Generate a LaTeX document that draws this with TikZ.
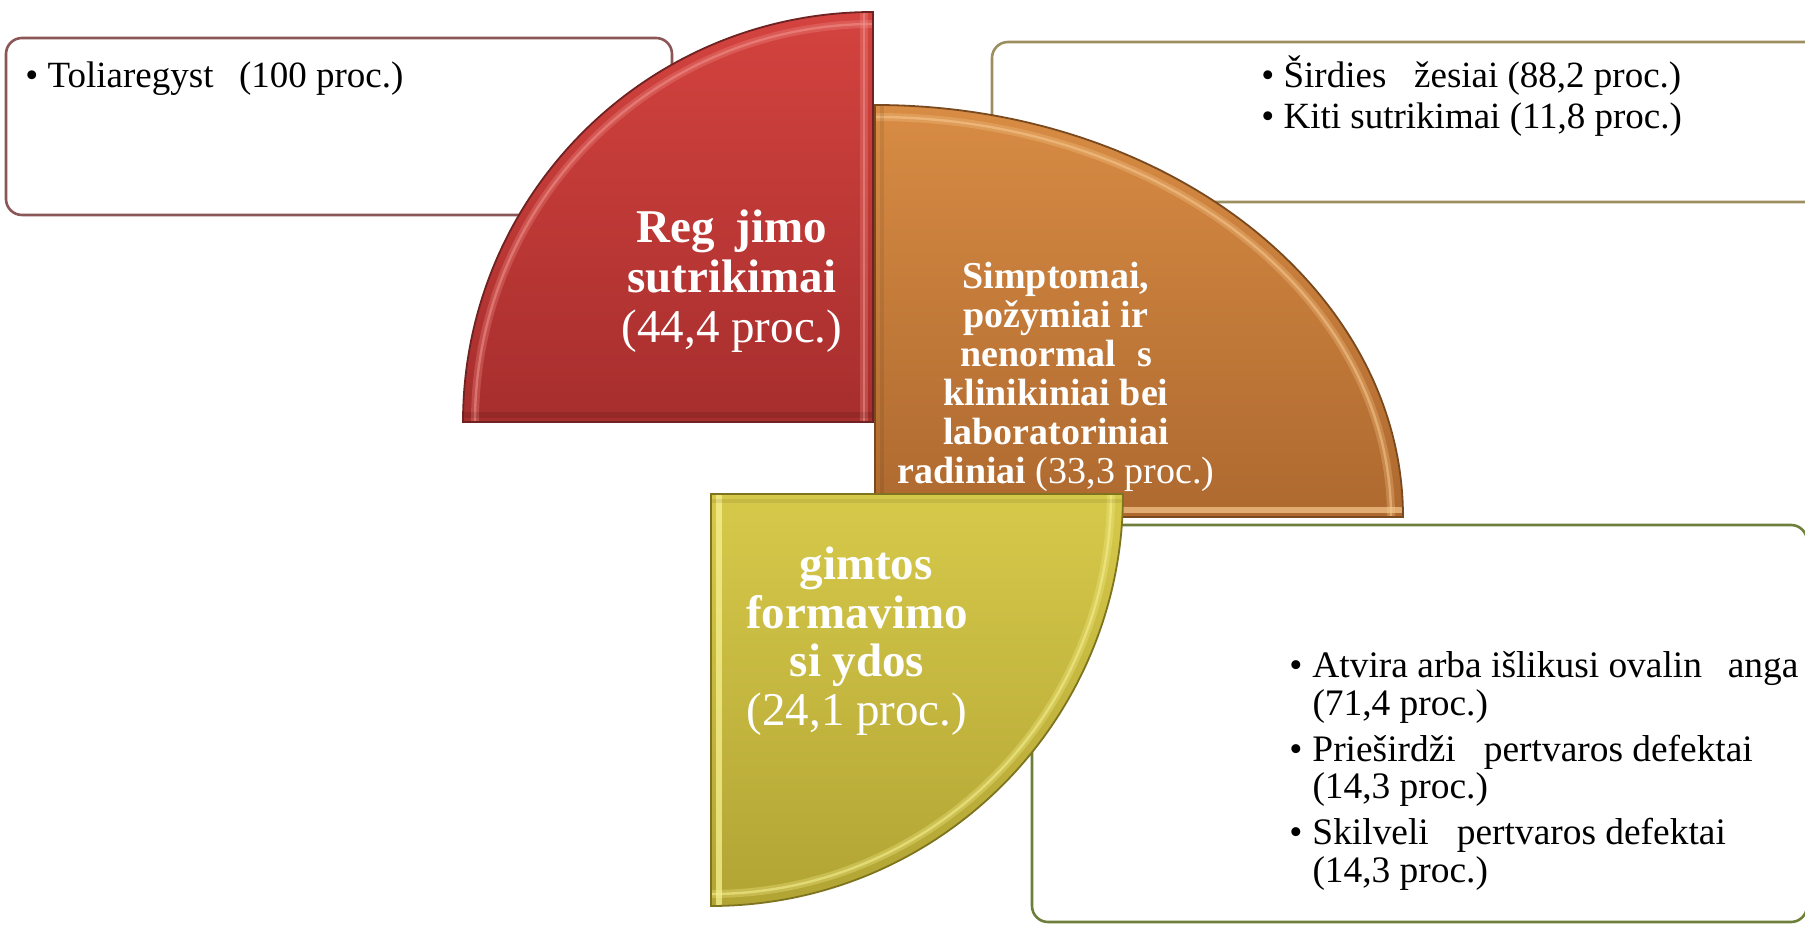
\documentclass[tikz,border=0pt]{standalone}
\usepackage{fontspec}
\setmainfont{Liberation Serif}
\definecolor{redTop}{HTML}{D4433F}
\definecolor{redBot}{HTML}{A62E2D}
\definecolor{redLine}{HTML}{6E2222}
\definecolor{redHi}{HTML}{F2928C}
\definecolor{orTop}{HTML}{D88C44}
\definecolor{orBot}{HTML}{AE692F}
\definecolor{orLine}{HTML}{7A4A1E}
\definecolor{orHi}{HTML}{F7C88E}
\definecolor{yeTop}{HTML}{D6C94A}
\definecolor{yeBot}{HTML}{B2A434}
\definecolor{yeLine}{HTML}{7E7420}
\definecolor{yeHi}{HTML}{F7F190}
\definecolor{boxA}{HTML}{8A5656}
\definecolor{boxB}{HTML}{9C8E5E}
\definecolor{boxC}{HTML}{6E7F3C}
\tikzset{
  listbox/.style={line width=1.3pt, rounded corners=8pt, fill=white},
  bigtxt/.style={anchor=base, inner sep=0pt, text=white},
  listtxt/.style={anchor=base west, inner sep=0pt, text=black},
  softhi/.style={line width=4pt, opacity=.3},
  thinhi/.style={line width=1.2pt, opacity=.55},
}
\begin{document}
\begin{tikzpicture}[x=1pt,y=1pt]
\useasboundingbox (0,0) rectangle (902.5,463.5);
% boxes
\draw[listbox, draw=boxA] (3,444.5) rectangle (336,356);
\draw[listbox, draw=boxB] (496,442.5) rectangle (915,362.5);
\draw[listbox, draw=boxC] (516,201) rectangle (903.5,2.5);
% red quarter
\def\redpath{(436.5,252.5) -- (436.5,457.5) arc[start angle=90,end angle=180,radius=205pt] -- cycle}
\shade[top color=redTop, bottom color=redBot] \redpath;
\begin{scope}
\clip \redpath;
\draw[redHi, softhi] (436.5,252.5) circle[radius=199pt];
\draw[redHi, thinhi] (436.5,252.5) circle[radius=199pt];
\draw[redHi, softhi] (432,250) -- (432,460);
\draw[redHi, thinhi] (432,250) -- (432,460);
\draw[black, line width=3pt, opacity=.1] (230,256) -- (440,256);
\end{scope}
\draw[redLine, line width=0.9pt] \redpath;
% orange quarter
\def\orpath{(437.5,205) -- (437.5,411) arc[start angle=90,end angle=0,x radius=264pt,y radius=206pt] -- cycle}
\shade[top color=orTop, bottom color=orBot] \orpath;
\begin{scope}
\clip \orpath;
\draw[orHi, softhi] (437.5,205) ellipse[x radius=258pt, y radius=200pt];
\draw[orHi, thinhi] (437.5,205) ellipse[x radius=258pt, y radius=200pt];
\draw[orHi, line width=3pt, opacity=.7] (430,208.5) -- (710,208.5);
\draw[black, line width=2pt, opacity=.08] (441,205) -- (441,415);
\end{scope}
\draw[orLine, line width=0.9pt] \orpath;
% yellow quarter
\def\yepath{(355.5,216.5) -- (561.5,216.5) arc[start angle=0,end angle=-90,radius=206pt] -- cycle}
\shade[top color=yeTop, bottom color=yeBot] \yepath;
\begin{scope}
\clip \yepath;
\draw[yeHi, softhi] (355.5,216.5) circle[radius=200pt];
\draw[yeHi, thinhi] (355.5,216.5) circle[radius=200pt];
\draw[yeHi, line width=3pt, opacity=.75] (359.5,5) -- (359.5,220);
\draw[black, line width=2pt, opacity=.07] (350,213) -- (570,213);
\end{scope}
\draw[yeLine, line width=0.9pt] \yepath;
% texts in the quarters
\node[bigtxt] (red) at (366,342) {\fontsize{23.5}{25}\selectfont\begin{tabular}[t]{@{}c@{}}\textbf{Reg\hspace{0.44em}jimo}\\ \textbf{sutrikimai}\\ (44,4 proc.)\end{tabular}};
\node[bigtxt] (orange) at (528,319) {\fontsize{19}{19.5}\selectfont\begin{tabular}[t]{@{}c@{}}\textbf{Simptomai,}\\ \textbf{požymiai ir}\\ \textbf{nenormal\hspace{0.55em}s}\\ \textbf{klinikiniai bei}\\ \textbf{laboratoriniai}\\ \textbf{radiniai} (33,3 proc.)\end{tabular}};
\node[bigtxt] (yellow) at (428.5,173.5) {\fontsize{23.5}{24.25}\selectfont\begin{tabular}[t]{@{}c@{}}\textbf{\hspace{0.39em}gimtos}\\ \textbf{formavimo}\\ \textbf{si ydos}\\ (24,1 proc.)\end{tabular}};
% list texts
\node[listtxt] (tl) at (12.5,419.5) {\fontsize{18.5}{20}\selectfont • Toliaregyst\hspace{0.44em} (100 proc.)};
\node[listtxt] (tr) at (630.5,419.5) {\fontsize{18.5}{20.5}\selectfont\begin{tabular}[t]{@{}l@{}}• Širdies\hspace{0.5em} žesiai (88,2 proc.)\\ • Kiti sutrikimai (11,8 proc.)\end{tabular}};
\node[listtxt] (br) at (644.5,124.5) {\fontsize{18.7}{18.5}\selectfont\begin{tabular}[t]{@{}l@{\hspace{5pt}}l@{}}• & Atvira arba išlikusi ovalin\hspace{0.44em} anga\\ & (71,4 proc.)\\[4.5pt] • & Prieširdži\hspace{0.5em} pertvaros defektai\\ & (14,3 proc.)\\[4.5pt] • & Skilveli\hspace{0.5em} pertvaros defektai\\ & (14,3 proc.)\end{tabular}};
\end{tikzpicture}
\end{document}
